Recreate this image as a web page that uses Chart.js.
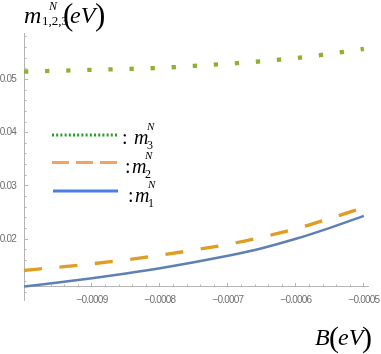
<!DOCTYPE html>
<html><head><meta charset="utf-8">
<script src="https://cdn.jsdelivr.net/npm/chart.js@4.4.1/dist/chart.umd.min.js"></script>
<style>
html,body{margin:0;padding:0;background:#fff;}
#wrap{position:relative;width:381px;height:354px;overflow:hidden;}
canvas{position:absolute;left:0;top:0;}
.t{position:absolute;white-space:nowrap;line-height:1;font-family:'Liberation Serif','Times New Roman',serif;color:#000;}
</style></head><body>
<div id="wrap"><canvas id="c" width="381" height="354"></canvas></div>
<script>
// ---- data ----
const bValues  = [-0.001, -0.00095, -0.0009, -0.00085, -0.0008, -0.00075, -0.0007, -0.00065, -0.0006, -0.00055, -0.0005];
const m1Values = [0.01111, 0.01188, 0.01270, 0.01358, 0.01456, 0.01567, 0.01689, 0.01832, 0.02008, 0.02214, 0.02438];
const m2Values = [0.01415, 0.01476, 0.01539, 0.01613, 0.01700, 0.01797, 0.01906, 0.02040, 0.02198, 0.02390, 0.02598];
const m3Values = [0.05146, 0.05162, 0.05178, 0.05195, 0.05216, 0.05252, 0.05293, 0.05340, 0.05401, 0.05479, 0.05572];
const xTickValues = [-0.0009, -0.0008, -0.0007, -0.0006, -0.0005];
const xTickLabels = ['\u22120.0009', '\u22120.0008', '\u22120.0007', '\u22120.0006', '\u22120.0005'];
const yTickValues = [0.02, 0.03, 0.04, 0.05];
const yTickLabels = ['0.02', '0.03', '0.04', '0.05'];
const xMinorStep = 0.00002, yMinorStep = 0.002;

const X_MIN = -0.001, X_MAX = -0.000494, Y_MIN = 0.0086, Y_MAX = 0.0587, X_AXIS_AT = 0.01105;

function minorList(from, to, step, majors) {
  const out = [];
  for (let i = 0; ; i++) {
    const v = +(from + i * step).toFixed(8);
    if (v > to + 1e-12) break;
    if (!majors.some(m => Math.abs(m - v) < step / 10)) out.push({value: v});
  }
  return out;
}
const xMinor = minorList(-0.00098, -0.0005, xMinorStep, xTickValues);
const yMinor = minorList(0.010, 0.058, yMinorStep, yTickValues);

const tickFont = {family: "'Liberation Sans','Arial',sans-serif", size: 10};
const axisGray = '#b4b4b4';

function labelFor(vals, labels) {
  return (v) => { const i = vals.findIndex(t => Math.abs(t - v) < 1e-9); return i >= 0 ? labels[i] : ''; };
}
function zeroPad(s) { s.paddingLeft = 0; s.paddingRight = 0; s.paddingTop = 0; s.paddingBottom = 0; }

const condensePlugin = {
  id: 'condense',
  beforeDraw(chart) { try { chart.ctx.letterSpacing = '-0.8px'; } catch (e) {} },
  beforeDatasetsDraw(chart) { try { chart.ctx.letterSpacing = '0px'; } catch (e) {} }
};

const legendPlugin = {
  id: 'legendKeys',
  afterDatasetsDraw(chart) {
    const ctx = chart.ctx;
    const keys = [
      {y: 135, x0: 52, x1: 118, color: '#25a025', w: 3, dash: [2, 2.2]},
      {y: 162.5, x0: 52, x1: 117, color: '#f3a35f', w: 3, dash: [17, 7]},
      {y: 191, x0: 53, x1: 118, color: '#4a7ee6', w: 3, dash: []}
    ];
    ctx.save();
    keys.forEach(k => {
      ctx.beginPath();
      ctx.strokeStyle = k.color; ctx.lineWidth = k.w; ctx.lineCap = 'butt';
      ctx.setLineDash(k.dash);
      ctx.moveTo(k.x0, k.y); ctx.lineTo(k.x1, k.y); ctx.stroke();
    });
    ctx.restore();
  }
};

new Chart(document.getElementById('c'), {
  type: 'line',
  data: {
    datasets: [
      {label: 'm3', data: bValues.map((b, i) => ({x: b, y: m3Values[i]})), borderColor: '#8FB032', borderWidth: 4.3, borderDash: [4.3, 16.8], borderCapStyle: 'butt', pointRadius: 0, cubicInterpolationMode: 'monotone', xAxisID: 'x', yAxisID: 'y'},
      {label: 'm2', data: bValues.map((b, i) => ({x: b, y: m2Values[i]})), borderColor: '#E19C24', borderWidth: 3.3, borderDash: [18, 17.6], borderCapStyle: 'butt', pointRadius: 0, cubicInterpolationMode: 'monotone', xAxisID: 'x', yAxisID: 'y'},
      {label: 'm1', data: bValues.map((b, i) => ({x: b, y: m1Values[i]})), borderColor: '#5E81B5', borderWidth: 2.5, pointRadius: 0, cubicInterpolationMode: 'monotone', xAxisID: 'x', yAxisID: 'y'}
    ]
  },
  options: {
    responsive: false, animation: false, devicePixelRatio: 1,
    layout: {padding: {top: 33, right: 13, bottom: 54, left: 0}},
    plugins: {legend: {display: false}, tooltip: {enabled: false}},
    scales: {
      x: {
        type: 'linear', axis: 'x', position: {y: X_AXIS_AT}, min: X_MIN, max: X_MAX,
        afterBuildTicks: s => { s.ticks = xTickValues.map(v => ({value: v})); },
        afterFit: s => { s.height = 0; zeroPad(s); },
        ticks: {autoSkip: false, maxRotation: 0, minRotation: 0, padding: 11, font: tickFont, color: '#707070', callback: labelFor(xTickValues, xTickLabels)},
        grid: {drawOnChartArea: false, drawTicks: true, tickLength: -4, tickColor: axisGray, tickWidth: 1},
        border: {display: true, color: axisGray, width: 1}
      },
      xMinor: {
        type: 'linear', axis: 'x', position: {y: X_AXIS_AT}, min: X_MIN, max: X_MAX,
        afterBuildTicks: s => { s.ticks = xMinor.slice(); },
        afterFit: s => { s.height = 0; zeroPad(s); },
        ticks: {display: false},
        grid: {drawOnChartArea: false, drawTicks: true, tickLength: -2.5, tickColor: axisGray, tickWidth: 1},
        border: {display: false}
      },
      y: {
        type: 'linear', axis: 'y', position: 'left', min: Y_MIN, max: Y_MAX,
        afterBuildTicks: s => { s.ticks = yTickValues.map(v => ({value: v})); },
        afterFit: s => { s.width = 24; zeroPad(s); },
        ticks: {padding: 12, font: tickFont, color: '#707070', callback: labelFor(yTickValues, yTickLabels)},
        grid: {drawOnChartArea: false, drawTicks: true, tickLength: -4, tickColor: axisGray, tickWidth: 1},
        border: {display: true, color: axisGray, width: 1}
      },
      yMinor: {
        type: 'linear', axis: 'y', position: {x: X_MIN}, min: Y_MIN, max: Y_MAX,
        afterBuildTicks: s => { s.ticks = yMinor.slice(); },
        afterFit: s => { s.width = 0; zeroPad(s); },
        ticks: {display: false},
        grid: {drawOnChartArea: false, drawTicks: true, tickLength: -2.5, tickColor: axisGray, tickWidth: 1},
        border: {display: false}
      }
    }
  },
  plugins: [condensePlugin, legendPlugin]
});

// ---- text (axis titles and legend labels) ----
const wrap = document.getElementById('wrap');
function place(txt, left, baseline, size, italic) {
  const d = document.createElement('div');
  d.className = 't';
  d.textContent = txt;
  d.style.left = left + 'px';
  d.style.top = (baseline - 0.8375 * size) + 'px';
  d.style.fontSize = size + 'px';
  d.style.fontStyle = italic ? 'italic' : 'normal';
  wrap.appendChild(d);
}
// y title  m^N_{1,2,3}(eV)
place('m', 24, 23, 24, true);
place('N', 49, 10, 12, true);
place('1,2,3', 42, 25, 13, false);
place('(', 63, 24.5, 31, false);
place('eV', 70, 23, 24, true);
place(')', 95, 24.5, 31, false);
// x title  B(eV)
place('B', 315, 345, 24, true);
place('(', 329, 347.5, 30, false);
place('eV', 338, 345, 24, true);
place(')', 362, 347.5, 30, false);
// legend labels
place(':', 122, 144, 20, false);
place('m', 134, 144, 20, true);
place('N', 147, 130, 11, true);
place('3', 147, 149, 12, false);
place(':', 125, 173, 20, false);
place('m', 132, 173, 20, true);
place('N', 145, 159, 11, true);
place('2', 145, 178, 12, false);
place(':', 128, 202, 20, false);
place('m', 135, 202, 20, true);
place('N', 148, 188, 11, true);
place('1', 148, 207, 12, false);
</script>
</body></html>
